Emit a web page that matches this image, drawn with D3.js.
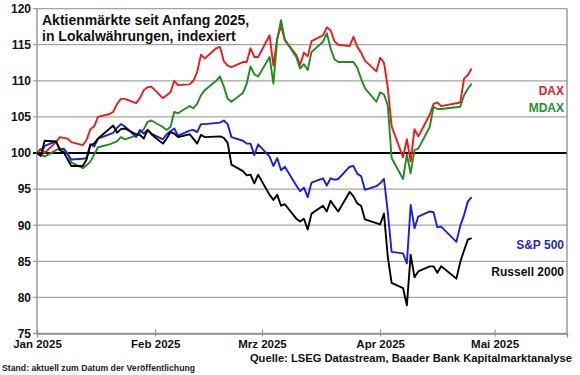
<!DOCTYPE html>
<html><head><meta charset="utf-8">
<script src="https://cdn.jsdelivr.net/npm/d3@7"></script>
<style>
body{margin:0;background:#fff}
svg{display:block}
text{font-family:"Liberation Sans",Arial,Helvetica,sans-serif}
</style>
</head><body>
<svg id="c" width="580" height="375"></svg>
<script>
// ---- Data ----
const deDates = ["2025-01-01",
 "2025-01-02","2025-01-03","2025-01-06","2025-01-07","2025-01-08","2025-01-09","2025-01-10","2025-01-13","2025-01-14","2025-01-15","2025-01-16","2025-01-17","2025-01-20","2025-01-21","2025-01-22","2025-01-23","2025-01-24","2025-01-27","2025-01-28","2025-01-29","2025-01-30","2025-01-31",
 "2025-02-03","2025-02-04","2025-02-05","2025-02-06","2025-02-07","2025-02-10","2025-02-11","2025-02-12","2025-02-13","2025-02-14","2025-02-17","2025-02-18","2025-02-19","2025-02-20","2025-02-21","2025-02-24","2025-02-25","2025-02-26","2025-02-27","2025-02-28",
 "2025-03-03","2025-03-04","2025-03-05","2025-03-06","2025-03-07","2025-03-10","2025-03-11","2025-03-12","2025-03-13","2025-03-14","2025-03-17","2025-03-18","2025-03-19","2025-03-20","2025-03-21","2025-03-24","2025-03-25","2025-03-26","2025-03-27","2025-03-28","2025-03-31",
 "2025-04-01","2025-04-02","2025-04-03","2025-04-04","2025-04-07","2025-04-08","2025-04-09","2025-04-10","2025-04-11","2025-04-14","2025-04-15","2025-04-16","2025-04-17","2025-04-22","2025-04-23","2025-04-24","2025-04-25"];

const daxValues = [100,
 100.6,100.0,101.5,102.2,102.1,102.0,101.5,101.1,101.8,103.3,103.7,105.0,105.4,105.7,106.8,107.5,107.5,106.9,107.6,108.7,109.1,109.2,
 107.6,108.0,108.4,110.0,109.4,109.5,110.0,111.2,113.6,113.1,114.5,114.7,112.7,112.1,111.9,112.6,112.6,114.5,113.3,113.3,
 116.3,112.1,115.9,117.6,115.6,113.6,112.2,113.9,113.4,115.5,116.3,117.4,117.0,115.5,115.0,114.8,116.1,114.7,113.9,112.8,111.3,
 113.2,112.5,109.1,103.7,99.4,101.9,98.8,103.3,102.3,105.3,106.8,107.0,106.5,107.0,110.3,110.8,111.7];

const mdaxValues = [100,
 99.8,99.5,100.4,100.6,100.5,100.0,98.7,97.9,98.3,98.8,99.8,100.8,101.2,101.4,101.6,102.2,101.9,102.4,102.8,103.3,104.3,104.5,
 103.6,103.2,103.6,105.7,105.5,106.5,106.2,106.8,108.0,108.7,110.0,110.6,109.2,107.5,107.1,108.3,109.6,112.0,110.9,110.6,
 113.3,109.6,115.7,118.4,115.7,113.3,111.7,112.3,111.5,114.0,115.4,116.6,114.5,113.0,112.6,112.6,112.6,111.8,110.3,109.0,107.1,
 108.4,108.1,106.6,99.3,96.4,99.8,97.2,100.4,100.6,103.6,106.4,106.1,106.1,106.4,108.0,108.9,109.6];

const usDates = ["2025-01-01",
 "2025-01-02","2025-01-03","2025-01-06","2025-01-07","2025-01-08","2025-01-10","2025-01-13","2025-01-14","2025-01-15","2025-01-16","2025-01-17","2025-01-21","2025-01-22","2025-01-23","2025-01-24","2025-01-27","2025-01-28","2025-01-29","2025-01-30","2025-01-31",
 "2025-02-03","2025-02-04","2025-02-05","2025-02-06","2025-02-07","2025-02-10","2025-02-11","2025-02-12","2025-02-13","2025-02-14","2025-02-18","2025-02-19","2025-02-20","2025-02-21","2025-02-24","2025-02-25","2025-02-26","2025-02-27","2025-02-28",
 "2025-03-03","2025-03-04","2025-03-05","2025-03-06","2025-03-07","2025-03-10","2025-03-11","2025-03-12","2025-03-13","2025-03-14","2025-03-17","2025-03-18","2025-03-19","2025-03-20","2025-03-21","2025-03-24","2025-03-25","2025-03-26","2025-03-27","2025-03-28","2025-03-31",
 "2025-04-01","2025-04-02","2025-04-03","2025-04-04","2025-04-07","2025-04-08","2025-04-09","2025-04-10","2025-04-11","2025-04-14","2025-04-15","2025-04-16","2025-04-17","2025-04-21","2025-04-22","2025-04-23","2025-04-24","2025-04-25"];

const spxValues = [100,
 99.8,101.0,101.6,100.5,100.6,99.1,99.2,99.3,101.2,100.9,102.0,102.8,103.5,104.0,103.7,102.2,103.2,102.7,103.2,102.7,
 101.9,102.6,103.0,103.4,102.4,103.1,103.2,102.9,104.0,104.0,104.2,104.5,104.0,102.2,101.7,101.3,101.3,99.7,101.2,
 99.5,98.2,99.3,97.6,98.1,95.5,94.7,95.2,93.9,95.9,96.5,95.5,96.5,96.3,96.4,98.1,98.2,97.1,96.8,94.9,95.4,
 95.8,96.4,91.8,86.3,86.1,84.7,92.8,89.6,91.2,91.9,91.8,89.7,89.8,87.7,89.9,91.4,93.3,93.9];

const rutValues = [100,
 99.6,101.7,101.6,100.4,100.1,98.2,98.2,99.1,101.1,101.3,102.0,103.8,102.8,103.3,103.4,102.6,102.5,102.0,103.2,102.6,
 101.3,102.0,102.9,102.7,102.2,102.6,102.0,101.3,102.5,102.2,102.3,102.1,101.4,98.4,97.5,96.9,97.0,95.8,97.0,
 94.2,93.5,94.2,92.7,92.9,90.9,90.5,90.9,89.4,91.6,92.7,91.9,93.4,92.6,91.9,94.6,94.0,93.0,92.7,90.8,90.3,
 90.1,91.6,85.6,82.0,81.3,78.9,85.9,82.8,83.6,84.3,84.3,83.4,84.3,82.6,84.9,86.5,88.0,88.2];

const seriesNames = ["DAX","MDAX","S&P 500","Russell 2000"];
const yTicks = [75,80,85,90,95,100,105,110,115,120];
const xTickDates = ["2025-01-01","2025-02-01","2025-03-01","2025-04-01","2025-05-01"];
const xTickLabels = ["Jan 2025","Feb 2025","Mrz 2025","Apr 2025","Mai 2025"];
const titleLines = ["Aktienmärkte seit Anfang 2025,","in Lokalwährungen, indexiert"];
const sourceText = "Quelle: LSEG Datastream, Baader Bank Kapitalmarktanalyse";
const standText = "Stand: aktuell zum Datum der Veröffentlichung";

// ---- Setup ----
const parse = d3.timeParse("%Y-%m-%d");
const svg = d3.select("#c");
const L = 37, R = 567, T = 8.6, B = 333.5;
const x = d3.scaleTime().domain([parse("2025-01-01"), parse("2025-05-20")]).range([L, R]);
const y = d3.scaleLinear().domain([75, 120]).range([B, T]);

const series = [
  {name: seriesNames[0], dates: deDates, values: daxValues, color: "#ec1c1c", label: "#d9232a", ly: 95},
  {name: seriesNames[1], dates: deDates, values: mdaxValues, color: "#1f8c22", label: "#22922a", ly: 112},
  {name: seriesNames[2], dates: usDates, values: spxValues, color: "#1a1ee0", label: "#2727c4", ly: 249},
  {name: seriesNames[3], dates: usDates, values: rutValues, color: "#000000", label: "#111111", ly: 276}
];

// gridlines
svg.append("g").selectAll("line").data(yTicks).join("line")
  .attr("x1", L - 4).attr("x2", R)
  .attr("y1", d => y(d)).attr("y2", d => y(d))
  .attr("stroke", d => d === 100 ? "#000" : "#a3a3a3")
  .attr("stroke-width", d => d === 100 ? 2 : 1.3);

// left axis line and right border
svg.append("line").attr("x1", L).attr("x2", L).attr("y1", T).attr("y2", B)
  .attr("stroke", "#8c8c8c").attr("stroke-width", 1.3);
svg.append("line").attr("x1", R).attr("x2", R).attr("y1", T).attr("y2", B)
  .attr("stroke", "#8c8c8c").attr("stroke-width", 1.3);

// y axis labels
const yAxis = d3.axisLeft(y).tickValues(yTicks).tickSize(0).tickPadding(6);
const gy = svg.append("g").attr("transform", `translate(${L},0)`).call(yAxis);
gy.select(".domain").remove();
gy.selectAll("text").attr("font-size", 12).attr("font-weight", "bold").attr("fill", "#111")
  .attr("font-family", "'Liberation Sans',Arial,sans-serif");

// x axis
const xAxis = d3.axisBottom(x).tickValues(xTickDates.map(parse))
  .tickFormat((d, i) => xTickLabels[i]).tickSize(4).tickPadding(2);
const gx = svg.append("g").attr("transform", `translate(0,${B})`).call(xAxis);
gx.select(".domain").attr("stroke", "#8c8c8c").attr("stroke-width", 1.3);
gx.selectAll(".tick line").attr("stroke", "#8c8c8c").attr("y1", -4).attr("y2", 3);
gx.selectAll("text").attr("font-size", 11.5).attr("font-weight", "bold").attr("fill", "#111")
  .attr("font-family", "'Liberation Sans',Arial,sans-serif");

// lines
const line = d3.line().x(d => x(d[0])).y(d => y(d[1]));
series.forEach(s => {
  const pts = s.dates.map((d, i) => [parse(d), s.values[i]]);
  svg.append("path").datum(pts).attr("d", line)
    .attr("fill", "none").attr("stroke", s.color).attr("stroke-width", 1.9)
    .attr("stroke-linejoin", "round");
});

// series labels
svg.append("g").selectAll("text").data(series).join("text")
  .attr("x", 564).attr("y", d => d.ly).attr("text-anchor", "end")
  .attr("font-size", 12).attr("font-weight", "bold").attr("fill", d => d.label)
  .text(d => d.name);

// title
svg.append("g").selectAll("text").data(titleLines).join("text")
  .attr("x", 42).attr("y", (d, i) => 25 + i * 15.5)
  .attr("font-size", 14).attr("font-weight", "bold").attr("fill", "#111")
  .text(d => d);

// footer
svg.append("text").attr("x", 572).attr("y", 362).attr("text-anchor", "end")
  .attr("font-size", 11.2).attr("font-weight", "bold").attr("fill", "#111").text(sourceText);
svg.append("text").attr("x", 2).attr("y", 371)
  .attr("font-size", 8.7).attr("font-weight", "bold").attr("fill", "#222").text(standText);
</script>
</body></html>
